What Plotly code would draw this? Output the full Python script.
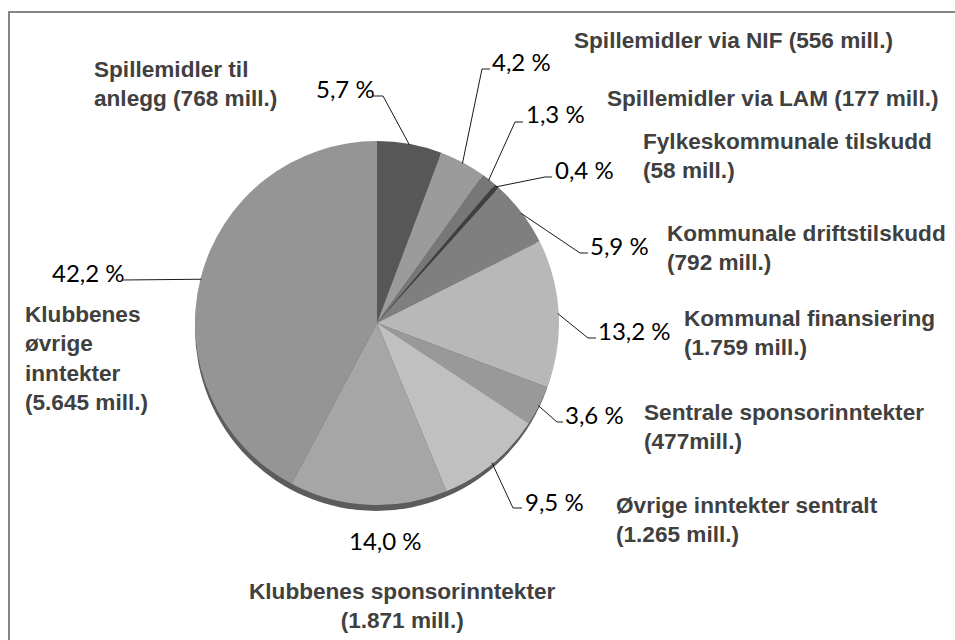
import math
import plotly.graph_objects as go

# ---------------- data ----------------
names = [
    "Spillemidler til<br>anlegg (768 mill.)",
    "Spillemidler via NIF (556 mill.)",
    "Spillemidler via LAM (177 mill.)",
    "Fylkeskommunale tilskudd<br>(58 mill.)",
    "Kommunale driftstilskudd<br>(792 mill.)",
    "Kommunal finansiering<br>(1.759 mill.)",
    "Sentrale sponsorinntekter<br>(477mill.)",
    "Øvrige inntekter sentralt<br>(1.265 mill.)",
    "Klubbenes sponsorinntekter<br>(1.871 mill.)",
    "Klubbenes<br>øvrige<br>inntekter<br>(5.645 mill.)",
]
amounts_mill = [768, 556, 177, 58, 792, 1759, 477, 1265, 1871, 5645]
percent_labels = ["5,7 %", "4,2 %", "1,3 %", "0,4 %", "5,9 %",
                  "13,2 %", "3,6 %", "9,5 %", "14,0 %", "42,2 %"]
colors = ["#575757", "#9b9b9b", "#777777", "#3f3f3f", "#7f7f7f",
          "#b8b8b8", "#999999", "#c0c0c0", "#a6a6a6", "#959595"]

# ---------------- layout constants (page pixels) ----------------
W, H = 955, 640
CX, CY, R = 377, 323, 182

# name label: (x, center y, xanchor, align)
name_pos = [
    (92, 84, "left", "left"),
    (572, 40, "left", "left"),
    (605, 99, "left", "left"),
    (641, 156, "left", "left"),
    (665, 248, "left", "left"),
    (682, 333, "left", "left"),
    (642, 427, "left", "left"),
    (614, 520, "left", "left"),
    (402, 606, "center", "center"),
    (23, 358, "left", "left"),
]
# percent label: (x, center y, xanchor)
pct_pos = [
    (314, 89, "left"), (490, 61, "left"), (524, 114, "left"),
    (553, 169, "left"), (588, 245, "left"), (596, 330, "left"),
    (563, 414, "left"), (523, 501, "left"), (385, 540, "center"),
    (50, 272, "left"),
]
# leader line: elbow point and end point (None = no line)
leaders = [
    ((383, 96), (373, 96)),
    ((482, 69), (490, 69)),
    ((515, 122), (523, 122)),
    ((545, 177), (552, 177)),
    ((580, 253), (588, 253)),
    ((588, 338), (596, 338)),
    ((557, 422), (563, 422)),
    ((513, 508), (522, 508)),
    None,
    ((122, 280), (122, 280)),
]


def px(x, y):
    return x / W, 1 - y / H


fig = go.Figure()
fig.add_trace(go.Pie(
    values=amounts_mill,
    labels=[n.replace("<br>", " ") for n in names],
    sort=False,
    direction="clockwise",
    rotation=0,
    textinfo="none",
    hoverinfo="label+percent",
    marker=dict(colors=colors, line=dict(width=0)),
    showlegend=False,
    domain=dict(x=[(CX - R) / W, (CX + R) / W],
                y=[(H - CY - R) / H, (H - CY + R) / H]),
))

shapes = []
# border frame (only left and top edges are visible in the picture)
a = px(9, 700)
b = px(9, 12)
c = px(1000, 12)
shapes.append(dict(type="path", xref="paper", yref="paper",
                   path=f"M {a[0]},{a[1]} L {b[0]},{b[1]} L {c[0]},{c[1]}",
                   line=dict(color="#858585", width=2), layer="below"))
# shadow under pie
sx0, sy0 = px(CX - R, CY - R + 5)
sx1, sy1 = px(CX + R - 2, CY + R + 6)
shapes.append(dict(type="circle", xref="paper", yref="paper",
                   x0=sx0, y0=sy1, x1=sx1, y1=sy0,
                   fillcolor="#5c5c5c", line=dict(width=0), layer="below"))

total = sum(amounts_mill)
cum = 0
for i, v in enumerate(amounts_mill):
    frac = (cum + v / 2) / total
    cum += v
    if leaders[i] is None:
        continue
    th = 2 * math.pi * frac
    ex = CX + (R - 1) * math.sin(th)
    ey = CY - (R - 1) * math.cos(th)
    (bx, by), (tx, ty) = leaders[i]
    p0 = px(ex, ey)
    p1 = px(bx, by)
    p2 = px(tx, ty)
    path = f"M {p0[0]},{p0[1]} L {p1[0]},{p1[1]} L {p2[0]},{p2[1]}"
    shapes.append(dict(type="path", xref="paper", yref="paper", path=path,
                       line=dict(color="#1a1a1a", width=1)))

annotations = []
for i in range(len(names)):
    x, y, xa, al = name_pos[i]
    ax_, ay_ = px(x, y)
    annotations.append(dict(
        x=ax_, y=ay_, xref="paper", yref="paper", text=names[i],
        showarrow=False, xanchor=xa, yanchor="middle", align=al,
        font=dict(family="Liberation Sans", size=22.6, color="#404040",
                  weight="bold")))
    x, y, xa = pct_pos[i]
    ax_, ay_ = px(x, y)
    annotations.append(dict(
        x=ax_, y=ay_, xref="paper", yref="paper", text=percent_labels[i],
        showarrow=False, xanchor=xa, yanchor="middle",
        font=dict(family="Lato", size=24, color="#000000")))

fig.update_layout(
    width=W, height=H,
    margin=dict(l=0, r=0, t=0, b=0),
    paper_bgcolor="white",
    plot_bgcolor="white",
    shapes=shapes,
    annotations=annotations,
)

fig.write_html(
    "out.html",
    config={"displayModeBar": False},
    post_script="document.body.style.margin='0';"
                "document.documentElement.style.overflow='hidden';",
)
